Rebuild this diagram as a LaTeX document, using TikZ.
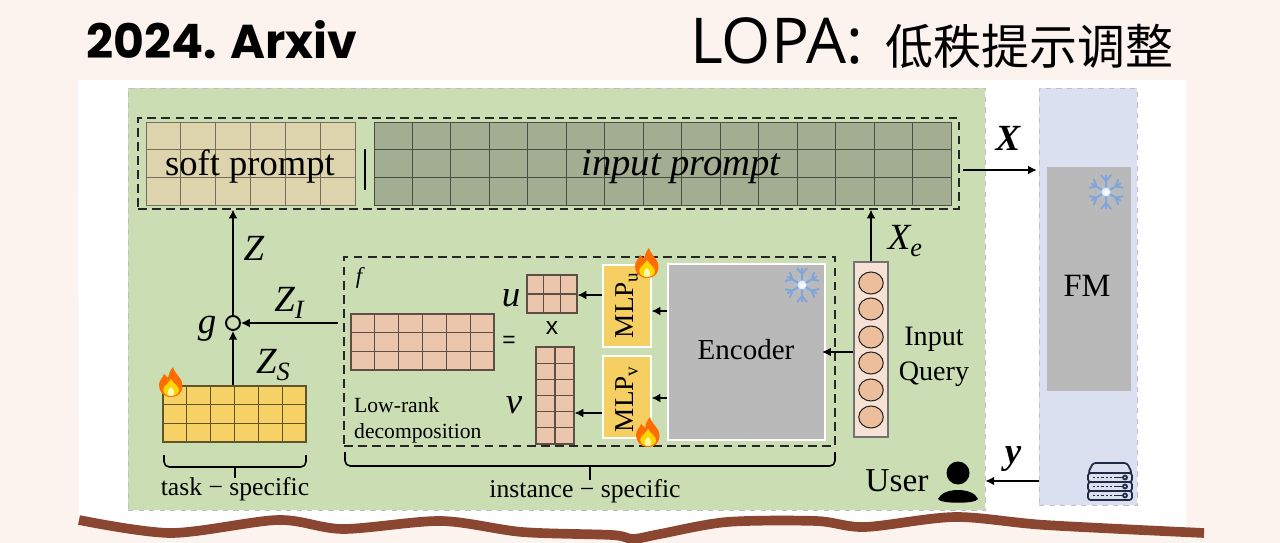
\documentclass[tikz,border=0pt]{standalone}
\usepackage{fontspec}
\setmainfont{Liberation Serif}
\newfontfamily\headfont{Poppins}
\newfontfamily\lopafont{Open Sans}
\newfontfamily\plainsans{Liberation Sans}
\newfontfamily\cjkfont{Noto Sans CJK SC}
\usetikzlibrary{arrows.meta,fit,shapes.geometric}

\definecolor{pagebg}{HTML}{FDF3EE}
\definecolor{panelgreen}{HTML}{CBDDB3}
\definecolor{panelblue}{HTML}{DAE0F0}
\definecolor{blockgray}{HTML}{B9B9B9}
\definecolor{softtan}{HTML}{DDD3AC}
\definecolor{inputgreen}{HTML}{A3AD92}
\definecolor{cellpink}{HTML}{EBC5AC}
\definecolor{cellyellow}{HTML}{F6D165}
\definecolor{mlpyellow}{HTML}{F5CF62}
\definecolor{flakeblue}{HTML}{7FA6DC}
\definecolor{servernavy}{HTML}{1F2A44}
\definecolor{tornbrown}{HTML}{8A4630}

% name, left, top, right, bottom, columns, rows, style
\newcommand{\cellgrid}[8]{
  \node[#8, inner sep=0pt, fit={(#2,#3) (#4,#5)}] (#1) {};
  \foreach \i [evaluate=\i as \gx using #2+(#4-#2)*\i/#6] in {1,...,#6}
    \draw[#8] (\gx,#3) -- (\gx,#5);
  \foreach \j [evaluate=\j as \gy using #3+(#5-#3)*\j/#7] in {1,...,#7}
    \draw[#8] (#2,\gy) -- (#4,\gy);
}
\newcommand{\subtag}[2]{#1\raisebox{-.2em}{\fontsize{15}{16}\selectfont #2}}
\newcommand{\snowmark}[2]{
  \begin{scope}[shift={(#1,#2)}]
    \foreach \a in {0,60,...,300}
      \draw[flakeblue, line width=1.1pt, rotate=\a] (0,-4) -- (0,-17) (-5,-17) -- (0,-11) -- (5,-17);
    \foreach \a in {30,90,...,330}
      \draw[flakeblue!70, line width=.7pt, rotate=\a] (0,-4) -- (0,-9);
    \shade[inner color=white, outer color=flakeblue!25] (0,0) ellipse (4.5 and 4.5);
  \end{scope}
}
\newcommand{\firemark}[2]{
  \begin{scope}[shift={(#1,#2)}]
    \fill[orange!85!red] (0,15) .. controls (-8,15) and (-12,9) .. (-12,3) .. controls (-12,-2) and (-8,-4) .. (-7,-8)
      .. controls (-5,-6) and (-4,-5) .. (-3,-4) .. controls (-2,-8) and (-1,-12) .. (2,-15)
      .. controls (3,-10) and (8,-6) .. (10,-2) .. controls (13,3) and (12,15) .. (0,15) -- cycle;
    \fill[yellow!75!orange] (0,14) .. controls (-7,14) and (-9,9) .. (-7,5) .. controls (-4,2) and (-1,-1) .. (0,-3)
      .. controls (2,1) and (9,5) .. (8,9) .. controls (7,13) and (3,14) .. (0,14) -- cycle;
    \fill[yellow!30] (0,14) .. controls (-4,14) and (-5,10) .. (0,5) .. controls (5,10) and (4,14) .. (0,14) -- cycle;
  \end{scope}
}

\begin{document}
\begin{tikzpicture}[x=0.02cm, y=-0.02cm,
    softcell/.style ={fill=softtan, draw=black!48!softtan, line width=.55pt},
    inputcell/.style ={fill=inputgreen, draw=black!55!inputgreen, line width=.55pt},
    pinkcell/.style ={fill=cellpink, draw=black!60!cellpink, line width=.6pt},
    yellowcell/.style ={fill=cellyellow, draw=black!60!cellyellow, line width=.6pt},
    panel/.style ={draw=black!25, dashed, line width=.5pt},
    dashbox/.style ={draw=black!85, dash pattern=on 5pt off 3pt, line width=.7pt},
    mlpbox/.style ={fill=mlpyellow, draw=white, line width=.7pt},
    flow/.style ={-{Latex[length=5pt,width=5pt]}, line width=.8pt},
    bracket/.style ={rounded corners=3pt, line width=.9pt},
    mathtag/.style ={font=\itshape\fontsize{21}{22}\selectfont},
    boldtag/.style ={font=\bfseries\itshape\fontsize{21}{22}\selectfont},
    caption/.style ={font=\fontsize{14.6}{18}\selectfont}]
  \useasboundingbox (0,0) rectangle (1280,543);
  \fill[pagebg] (0,0) rectangle (1280,543);
  \fill[white] plot[smooth] coordinates {(79,520) (171,533) (278,520) (343,529) (441,521) (522,532) (612,535) (633,539) (660,534) (727,522) (816,521) (865,527) (955,517) (1045,525) (1186,531)} -- (1186,80) -- (78,80) -- cycle;

  % panels
  \node[panel, fill=panelgreen, inner sep=0pt, fit={(128,88) (985,510)}] (clientpanel) {};
  \node[panel, fill=panelblue, inner sep=0pt, fit={(1039,88) (1137,505)}] (serverpanel) {};

  % titles
  \node[anchor=west, font=\headfont\bfseries\fontsize{27}{30}\selectfont] (year) at (80,40) {2024. Arxiv};
  \node[anchor=west, font=\lopafont\fontsize{36}{38}\selectfont] (lopa) at (684,41) {LOPA:};
  \node[anchor=west, font=\cjkfont\fontsize{27.3}{30}\selectfont] (lopacn) at (879,46) {低秩提示调整};

  % prompt row
  \node[dashbox, inner sep=0pt, fit={(138,118) (959,209)}] (promptbox) {};
  \cellgrid{softgrid}{146}{122}{355}{205}{6}{3}{softcell}
  \cellgrid{inputgrid}{374}{122}{951}{205}{15}{3}{inputcell}
  \node[font=\fontsize{20.8}{24}\selectfont] (softtext) at (250,167) {soft prompt};
  \node[font=\itshape\fontsize{22}{26}\selectfont] (inputtext) at (681,167) {input prompt};
  \coordinate (sepa) at (365,149);
  \coordinate (sepb) at (365,190);
  \draw[line width=.8pt] (sepa) -- (sepb);

  % foundation model
  \node[fill=blockgray, inner sep=0pt, fit={(1047,167) (1131,391)}] (fmblock) {};
  \node[font=\fontsize{18.5}{20}\selectfont] (fmtext) at (1087,286) {FM};
  \snowmark{1106}{192}

  % instance-specific part
  \node[dashbox, inner sep=0pt, fit={(344,257) (835,446)}] (decompbox) {};
  \node[fill=blockgray, draw=white, line width=.8pt, inner sep=0pt, fit={(668,264) (825,440)}] (encoder) {};
  \node[font=\fontsize{16.5}{18}\selectfont] (encodertext) at (746,350) {Encoder};
  \snowmark{802}{285}
  \node[mlpbox, inner sep=0pt, fit={(603,265) (651,347)}] (mlpu) {};
  \node[mlpbox, inner sep=0pt, fit={(603,356) (651,438)}] (mlpv) {};
  \node[rotate=90, font=\fontsize{15.5}{16}\selectfont] (mlputext) at (627,305) {MLP\textsubscript{u}};
  \node[rotate=90, font=\fontsize{15.5}{16}\selectfont] (mlpvtext) at (627,399) {MLP\textsubscript{v}};
  \cellgrid{ugrid}{527}{275}{577}{313}{3}{2}{pinkcell}
  \cellgrid{vgrid}{536}{347}{574}{444}{2}{6}{pinkcell}
  \cellgrid{fgrid}{351}{314}{494}{370}{6}{3}{pinkcell}
  \node[mathtag] (ulabel) at (511,298) {u};
  \node[mathtag] (vlabel) at (514,405) {v};
  \node[font=\plainsans\fontsize{13}{14}\selectfont] (equal) at (509,342) {=};
  \node[font=\plainsans\fontsize{14}{15}\selectfont] (times) at (552,328) {x};
  \node[font=\itshape\fontsize{13}{14}\selectfont] (flabel) at (359,278) {f};
  \node[anchor=west, align=left, font=\fontsize{12.3}{15}\selectfont] (lowrank) at (348,420) {Low-rank\\decomposition};

  % input query
  \node[fill=pagebg!60!cellpink, draw=black!55, line width=.6pt, inner sep=0pt, fit={(854,262) (888,437)}] (query) {};
  \foreach \n/\y in {1/283,2/309,3/337,4/363,5/390,6/417}
    \node[ellipse, fill=cellpink!90!orange, draw=black!85, line width=.6pt, minimum width=.49cm, minimum height=.44cm, inner sep=0pt] (token\n) at (871,\y) {};
  \node[align=center, font=\fontsize{16}{20}\selectfont] (querytext) at (934,357) {Input\\Query};

  % task-specific part
  \cellgrid{taskgrid}{163}{386}{306}{442}{6}{3}{yellowcell}
  \node[circle, draw, line width=1.1pt, inner sep=0pt, minimum size=.28cm] (gate) at (233,323) {};
  \node[mathtag] (glabel) at (207,329) {g};

  % labels
  \node[mathtag] (zlabel) at (254,248) {Z};
  \node[mathtag] (zilabel) at (289,303) {\subtag{Z}{I}};
  \node[mathtag] (zslabel) at (273,365) {\subtag{Z}{S}};
  \node[mathtag] (xelabel) at (905,241) {\subtag{X}{e}};
  \node[boldtag] (xlabel) at (1008,138) {X};
  \node[boldtag] (ylabel) at (1013,459) {y};

  % connectors
  \draw[flow] (gate) -- (gate |- promptbox.south);
  \draw[flow] (gate |- taskgrid.north) -- (gate);
  \draw[flow, shorten <=3pt] (decompbox.west |- gate) -- (gate);
  \draw[flow] (query.north) -- (query.north |- promptbox.south);
  \draw[flow] (query.west |- encoder) -- ([xshift=-2pt]encoder.east);
  \draw[flow] (encoder.west |- 0,311) -- (mlpu.east |- 0,311);
  \draw[flow] (encoder.west |- 0,398) -- (mlpv.east |- 0,398);
  \draw[flow] (mlpu.west |- 0,295) -- (ugrid.east |- 0,295);
  \draw[flow] (mlpv.west |- 0,413) -- (vgrid.east |- 0,413);
  \draw[flow, shorten <=2pt, shorten >=1pt] (promptbox.east |- 0,170) -- (serverpanel.west |- 0,170);
  \draw[flow] (serverpanel.west |- 0,481) -- (clientpanel.east |- 0,481);

  % flames
  \firemark{171}{382}
  \firemark{647}{263}
  \firemark{648}{432}

  % brackets
  \draw[bracket] (164,455) -- (164,467) -- (306,467) -- (306,455);
  \draw[line width=.9pt] (235,467) -- (235,478);
  \draw[bracket] (345,452) -- (345,466) -- (835,466) -- (835,452);
  \draw[line width=.9pt] (590,466) -- (590,480);
  \node[caption] (tasktext) at (235,489) {task − specific};
  \node[caption] (instancetext) at (585,491) {instance − specific};

  % user
  \node[font=\fontsize{19}{20}\selectfont] (usertext) at (897,481) {User};
  \fill (958,473) ellipse (11.5 and 11.5);
  \fill (938,499) .. controls (943,487) and (973,487) .. (978,499) .. controls (976,504) and (940,504) .. (938,499) -- cycle;

  % server
  \begin{scope}[servernavy, line width=1pt]
    \draw[rounded corners=1.5pt, fill=panelblue] (1093,463) -- (1127,463) -- (1132,473) -- (1088,473) -- cycle;
    \foreach \y in {473,482,491} {
      \draw[rounded corners=1.5pt] (1088,\y) rectangle (1132,\y+9);
      \draw[dash pattern=on 1.2pt off 1.2pt] (1093,\y+4.5) -- (1112,\y+4.5);
      \draw (1114,\y+4.5) -- (1122,\y+4.5);
      \draw (1125,\y+4.5) ellipse (2 and 2);
    }
  \end{scope}

  % torn edge
  \draw[tornbrown, line width=5.5pt] plot[smooth] coordinates {(79,520) (171,533) (278,520) (343,529) (441,521) (522,532) (612,535) (633,539) (660,534) (727,522) (816,521) (865,527) (955,517) (1045,525) (1204,533)};
\end{tikzpicture}
\end{document}
